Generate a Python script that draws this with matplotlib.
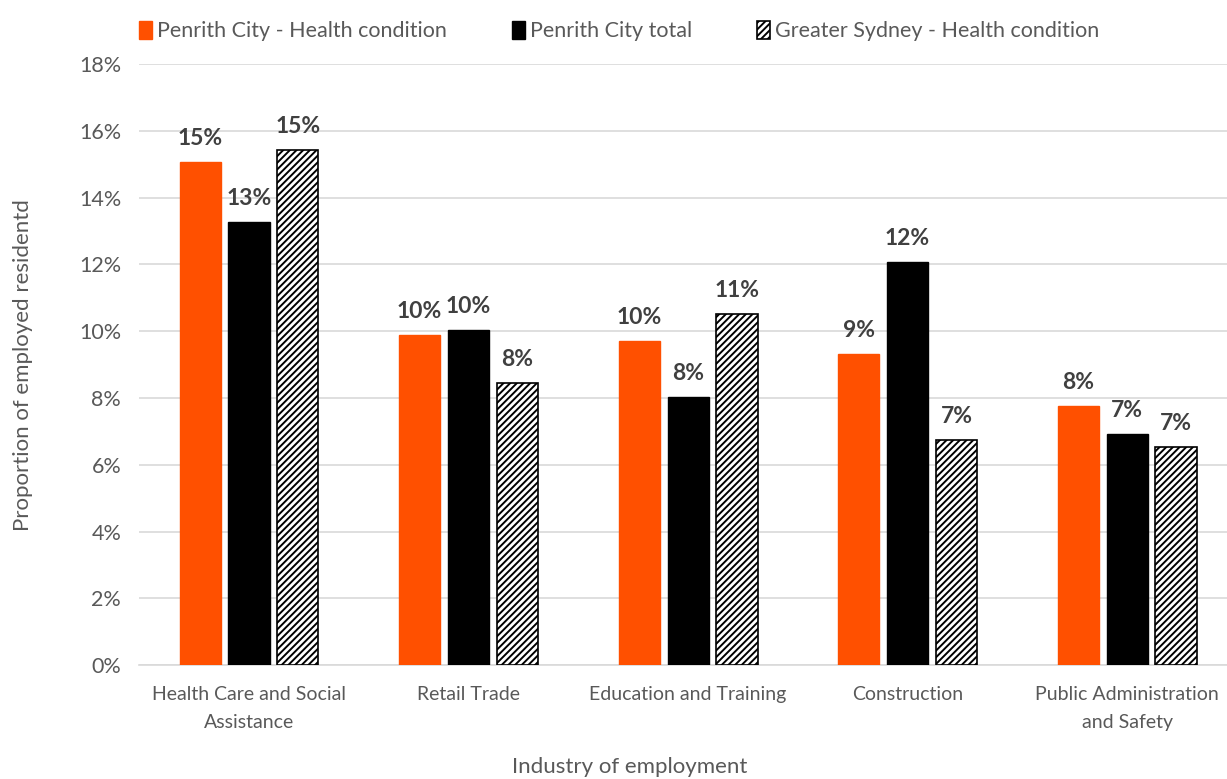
import numpy as np
import matplotlib
matplotlib.use('Agg')
import matplotlib.pyplot as plt

industries = ['Health Care and Social\nAssistance', 'Retail Trade', 'Education and Training',
              'Construction', 'Public Administration\nand Safety']
series_names = ['Penrith City - Health condition', 'Penrith City total', 'Greater Sydney - Health condition']
penrith_health = [15.05, 9.88, 9.70, 9.31, 7.76]
penrith_total = [13.27, 10.03, 8.03, 12.07, 6.92]
sydney_health = [15.42, 8.45, 10.51, 6.74, 6.53]
yticks = [0, 2, 4, 6, 8, 10, 12, 14, 16, 18]

plt.rcParams['font.family'] = ['Lato', 'DejaVu Sans']
plt.rcParams['hatch.linewidth'] = 1.4

GREY = '#595959'
STYLES = [
    {'color': '#FF5000', 'edgecolor': '#FF5000'},
    {'color': 'black', 'edgecolor': 'black'},
    {'color': 'white', 'edgecolor': 'black', 'hatch': '/////', 'linewidth': 1.2},
]

fig = plt.figure(figsize=(12.27, 7.79), dpi=100)
ax = fig.add_axes([0.1135, 0.146, 0.8945, 0.772])

x = np.arange(len(industries))
width = 0.187
step = 0.223
for i, (vals, name, st) in enumerate(zip([penrith_health, penrith_total, sydney_health], series_names, STYLES)):
    ax.bar(x + (i - 1) * step, vals, width, label=name, zorder=3, **st)
    for xi, v in zip(x + (i - 1) * step, vals):
        ax.text(xi, v + 0.4, f'{round(v):.0f}%', ha='center', va='bottom',
                fontsize=16.5, fontweight='bold', color='#404040')

ax.set_xlim(-0.5, 4.5)
ax.set_ylim(0, 18)
ax.set_yticks(yticks)
ax.set_yticklabels([f'{t}%' for t in yticks])
ax.set_xticks(x)
ax.set_xticklabels(industries, fontsize=14, color=GREY, linespacing=1.75)
ax.tick_params(axis='y', labelsize=15.5, colors=GREY, length=0, pad=13)
ax.tick_params(axis='x', length=0, pad=15)
ax.grid(axis='y', color='#d9d9d9', linewidth=1.2, zorder=0)
for s in ['top', 'right', 'left']:
    ax.spines[s].set_visible(False)
ax.spines['bottom'].set_color('#d9d9d9')
ax.spines['bottom'].set_linewidth(1.2)

ax.set_ylabel('Proportion of employed residentd', fontsize=16, color=GREY)
ax.yaxis.set_label_coords(-0.097, 0.5)
ax.set_xlabel('Industry of employment', fontsize=16, color=GREY)
ax.xaxis.set_label_coords(0.447, -0.153)

ax.legend(loc='lower left', bbox_to_anchor=(-0.018, 1.005), ncol=3, frameon=False,
          fontsize=15.5, handlelength=0.6, handleheight=0.9, handletextpad=0.25,
          columnspacing=3.0, labelcolor=GREY)

fig.savefig('out.png', dpi=100)
